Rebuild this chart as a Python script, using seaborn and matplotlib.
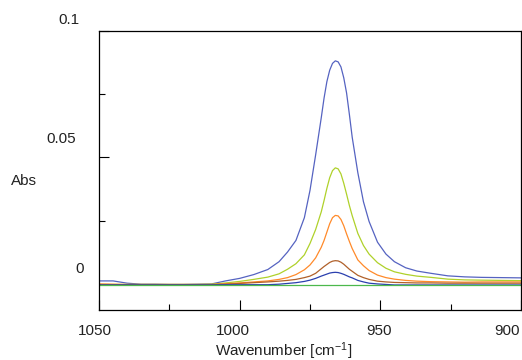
import matplotlib
matplotlib.use("Agg")
import pandas as pd
import matplotlib.pyplot as plt
import seaborn as sns
from matplotlib.transforms import ScaledTranslation

wavenumber = [1050, 1045, 1040, 1035, 1030, 1025, 1020, 1015, 1010, 1005,
              1000, 995, 990, 986, 983, 980, 977, 975, 973, 971,
              970, 969, 968, 967, 966, 965, 964, 963, 962, 961,
              960, 958, 956, 954, 951, 948, 945, 941, 937, 932,
              926, 920, 914, 907, 900]

abs_1 = [0.0012, 0.0012, 0.0003, -0.0001, -0.0001, -0.0002, -0.0002, -0.0001, 0.0000, 0.0012,
         0.0022, 0.0037, 0.0057, 0.0088, 0.0126, 0.0172, 0.0262, 0.0370, 0.0510, 0.0657,
         0.0735, 0.0800, 0.0845, 0.0872, 0.0882, 0.0878, 0.0858, 0.0815, 0.0755, 0.0670,
         0.0580, 0.0440, 0.0325, 0.0247, 0.0165, 0.0118, 0.0088, 0.0064, 0.0051, 0.0042,
         0.0032, 0.0028, 0.0026, 0.0025, 0.0024]
abs_2 = [-0.0002, -0.0002, -0.0002, -0.0002, -0.0002, -0.0002, -0.0002, -0.0002, -0.0001, 0.0004,
         0.0010, 0.0018, 0.0027, 0.0040, 0.0058, 0.0080, 0.0115, 0.0160, 0.0215, 0.0285,
         0.0330, 0.0378, 0.0420, 0.0448, 0.0459, 0.0455, 0.0435, 0.0398, 0.0355, 0.0310,
         0.0270, 0.0200, 0.0152, 0.0118, 0.0084, 0.0062, 0.0048, 0.0038, 0.0031, 0.0026,
         0.0019, 0.0016, 0.0015, 0.0014, 0.0013]
abs_3 = [0.0000, -0.0001, -0.0002, -0.0002, -0.0002, -0.0002, -0.0002, -0.0002, -0.0002, 0.0001,
         0.0004, 0.0008, 0.0012, 0.0018, 0.0025, 0.0037, 0.0056, 0.0075, 0.0103, 0.0145,
         0.0172, 0.0205, 0.0238, 0.0262, 0.0271, 0.0269, 0.0255, 0.0230, 0.0198, 0.0168,
         0.0140, 0.0095, 0.0072, 0.0053, 0.0035, 0.0025, 0.0019, 0.0014, 0.0011, 0.0009,
         0.0008, 0.0007, 0.0008, 0.0008, 0.0008]
abs_4 = [-0.0003, -0.0003, -0.0003, -0.0003, -0.0003, -0.0003, -0.0003, -0.0003, -0.0003, -0.0001,
         0.0002, 0.0005, 0.0008, 0.0011, 0.0014, 0.0018, 0.0025, 0.0031, 0.0042, 0.0060,
         0.0069, 0.0077, 0.0085, 0.0090, 0.0092, 0.0091, 0.0086, 0.0078, 0.0068, 0.0058,
         0.0050, 0.0034, 0.0025, 0.0018, 0.0011, 0.0008, 0.0006, 0.0005, 0.0004, 0.0004,
         0.0003, 0.0003, 0.0003, 0.0003, 0.0003]
abs_5 = [-0.0004, -0.0004, -0.0004, -0.0004, -0.0004, -0.0004, -0.0004, -0.0004, -0.0004, -0.0003,
         -0.0003, -0.0003, -0.0003, -0.0001, 0.0002, 0.0005, 0.0010, 0.0015, 0.0022, 0.0031,
         0.0035, 0.0039, 0.0043, 0.0045, 0.0046, 0.0045, 0.0042, 0.0038, 0.0033, 0.0028,
         0.0024, 0.0014, 0.0008, 0.0003, 0.0000, -0.0002, -0.0004, -0.0004, -0.0004, -0.0004,
         -0.0004, -0.0004, -0.0004, -0.0004, -0.0004]
abs_6 = [-0.0005] * len(wavenumber)

series_names = ["s1", "s2", "s3", "s4", "s5", "s6"]
colors = ["#5563c1", "#afd12a", "#ff8a2a", "#b0602a", "#2a3fae", "#4cb84c"]

xticks = [1050, 1000, 950, 900]
yticks = [0, 0.05, 0.1]
ytick_labels = ["0", "0.05", "0.1"]

df = pd.DataFrame({"wavenumber": wavenumber, "s1": abs_1, "s2": abs_2, "s3": abs_3,
                   "s4": abs_4, "s5": abs_5, "s6": abs_6})
long_df = df.melt(id_vars="wavenumber", var_name="sample", value_name="abs")

sns.set_theme(style="ticks")
plt.rcParams["font.family"] = ["Liberation Sans", "DejaVu Sans"]
plt.rcParams["mathtext.fontset"] = "custom"
plt.rcParams["mathtext.rm"] = "Liberation Sans"
plt.rcParams["mathtext.it"] = "Liberation Sans"

fig = plt.figure(figsize=(5.22, 3.6), dpi=100)
ax = fig.add_axes([99 / 522, 50 / 360, 422 / 522, 279 / 360])

sns.lineplot(data=long_df, x="wavenumber", y="abs", hue="sample", hue_order=series_names,
             palette=colors, linewidth=0.9, legend=False, estimator=None, ax=ax)

ax.set_xlim(1050, 900)
ax.set_ylim(-0.0103, 0.1)

ax.set_xticks(xticks)
ax.set_xticks([1025, 975, 925], minor=True)
ax.set_xticklabels([str(t) for t in xticks])
ax.set_yticks(yticks)
ax.set_yticks([0.025, 0.075], minor=True)
ax.set_yticklabels(ytick_labels)

ax.tick_params(which="both", direction="in", colors="black", width=0.8,
               labelsize=11, labelcolor="#222222")
ax.tick_params(which="major", length=7.2)
ax.tick_params(which="minor", length=4.3)
ax.tick_params(axis="x", which="major", pad=10)
ax.tick_params(axis="y", which="major", pad=14)

for sp in ax.spines.values():
    sp.set_color("black")
    sp.set_linewidth(0.9)

# the original software places the labels a bit off the ticks
dpi = fig.dpi
x_shift = [-4, -7, -1, -14]
for lab, dx in zip(ax.get_xticklabels(), x_shift):
    lab.set_transform(lab.get_transform() + ScaledTranslation(dx / dpi, 0, fig.dpi_scale_trans))
y_shift = [(4, 16), (-4, 20), (0, 12)]
for lab, (dx, dy) in zip(ax.get_yticklabels(), y_shift):
    lab.set_transform(lab.get_transform() + ScaledTranslation(dx / dpi, dy / dpi, fig.dpi_scale_trans))

ax.set_xlabel(r"Wavenumber [cm$^{\mathregular{-1}}$]", fontsize=11, color="#222222", va="center")
ax.xaxis.set_label_coords(0.438, -0.146)
ax.set_ylabel("Abs", fontsize=11, rotation=0, color="#222222", va="center", ha="center")
ax.yaxis.set_label_coords(-0.178, 0.462)

fig.savefig("out.png", dpi=100)
